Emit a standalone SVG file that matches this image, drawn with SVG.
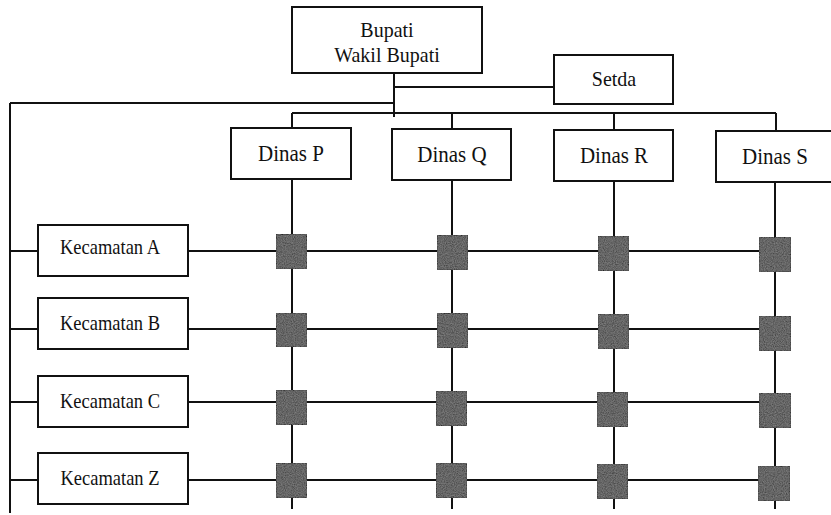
<svg xmlns="http://www.w3.org/2000/svg" width="831" height="515" viewBox="0 0 831 515">
  <style>
    .box { fill: #ffffff; stroke: #111111; stroke-width: 2; }
    .cell { fill: #484848; stroke: #1c1c1c; stroke-width: 1.5; filter: url(#grain); }
    .wire { fill: none; stroke: #111111; stroke-width: 2; }
    .lbl { font-family: "Liberation Serif", "Times New Roman", serif; fill: #111111; text-anchor: middle; }
    .big { font-size: 20px; }
    .dinas { font-size: 21px; }
    .kec { font-size: 18.5px; }
  </style>
  <defs>
    <!-- speckled texture for the coordination cells -->
    <filter id="grain" x="0" y="0" width="100%" height="100%">
      <feTurbulence type="fractalNoise" baseFrequency="0.9" numOctaves="2" seed="3" result="noise"/>
      <feColorMatrix in="noise" type="matrix" values="0 0 0 0 0.45  0 0 0 0 0.45  0 0 0 0 0.45  0 0 0 0.55 -0.1" result="spots"/>
      <feComposite in="spots" in2="SourceGraphic" operator="in" result="clipped"/>
      <feMerge><feMergeNode in="SourceGraphic"/><feMergeNode in="clipped"/></feMerge>
    </filter>
  </defs>

  <!-- connectors -->
  <g id="connectors" class="wire">
    <!-- head down to the bus -->
    <path d="M394 73 V117"/>
    <path d="M394 87 H554"/>
    <path d="M10 103 H394"/>
    <path d="M292 113 H776"/>
    <!-- drops to each dinas -->
    <path d="M292 113 V128 M452 113 V129 M614 113 V130 M776 113 V130"/>
    <!-- dinas columns -->
    <path d="M292 179 V509 M452 180 V509 M614 181 V509 M775 182 V509"/>
    <!-- left spine to kecamatan -->
    <path d="M10 103 V513"/>
    <path d="M10 251 H38 M10 329 H38 M10 402 H38 M10 480 H38"/>
    <!-- kecamatan rows -->
    <path d="M188 251 H759 M188 329 H759 M188 402 H759 M188 480 H759"/>
  </g>

  <g id="bupati">
    <rect class="box" x="292" y="7" width="190" height="66"/>
    <text class="lbl big" transform="translate(387 37) scale(1 1.1)">Bupati</text>
    <text class="lbl big" transform="translate(387 62) scale(1 1.1)">Wakil Bupati</text>
  </g>
  <g id="setda">
    <rect class="box" x="554" y="55" width="119" height="49"/>
    <text class="lbl big" transform="translate(614 86) scale(1 1.1)">Setda</text>
  </g>

  <g id="dinas-p">
    <rect class="box" x="231" y="128" width="120" height="51"/>
    <text class="lbl dinas" transform="translate(291 161) scale(1 1.1)">Dinas P</text>
  </g>
  <g id="dinas-q">
    <rect class="box" x="392" y="129" width="119" height="51"/>
    <text class="lbl dinas" transform="translate(452 162) scale(1 1.1)">Dinas Q</text>
  </g>
  <g id="dinas-r">
    <rect class="box" x="554" y="130" width="119" height="51"/>
    <text class="lbl dinas" transform="translate(614 163) scale(1 1.1)">Dinas R</text>
  </g>
  <g id="dinas-s">
    <rect class="box" x="716" y="131" width="120" height="51"/>
    <text class="lbl dinas" transform="translate(775 164) scale(1 1.1)">Dinas S</text>
  </g>

  <g id="kecamatan-a">
    <rect class="box" x="38" y="225" width="150" height="51"/>
    <text class="lbl kec" transform="translate(110 254) scale(1 1.1)">Kecamatan A</text>
  </g>
  <g id="kecamatan-b">
    <rect class="box" x="38" y="298" width="150" height="51"/>
    <text class="lbl kec" transform="translate(110 330) scale(1 1.1)">Kecamatan B</text>
  </g>
  <g id="kecamatan-c">
    <rect class="box" x="38" y="376" width="150" height="51"/>
    <text class="lbl kec" transform="translate(110 408) scale(1 1.1)">Kecamatan C</text>
  </g>
  <g id="kecamatan-z">
    <rect class="box" x="38" y="453" width="150" height="51"/>
    <text class="lbl kec" transform="translate(110 485) scale(1 1.1)">Kecamatan Z</text>
  </g>

  <!-- coordination cells at each row/column crossing -->
  <g id="cells">
    <rect class="cell" x="276" y="234" width="31" height="35"/>
    <rect class="cell" x="437" y="235" width="31" height="35"/>
    <rect class="cell" x="598" y="236" width="31" height="35"/>
    <rect class="cell" x="759" y="237" width="32" height="35"/>

    <rect class="cell" x="276" y="313" width="31" height="34"/>
    <rect class="cell" x="437" y="313" width="31" height="35"/>
    <rect class="cell" x="598" y="314" width="31" height="35"/>
    <rect class="cell" x="759" y="316" width="32" height="35"/>

    <rect class="cell" x="276" y="390" width="31" height="35"/>
    <rect class="cell" x="436" y="391" width="31" height="35"/>
    <rect class="cell" x="597" y="392" width="31" height="35"/>
    <rect class="cell" x="759" y="393" width="32" height="35"/>

    <rect class="cell" x="276" y="463" width="31" height="35"/>
    <rect class="cell" x="436" y="463" width="31" height="35"/>
    <rect class="cell" x="597" y="464" width="31" height="35"/>
    <rect class="cell" x="758" y="466" width="32" height="35"/>
  </g>
</svg>
